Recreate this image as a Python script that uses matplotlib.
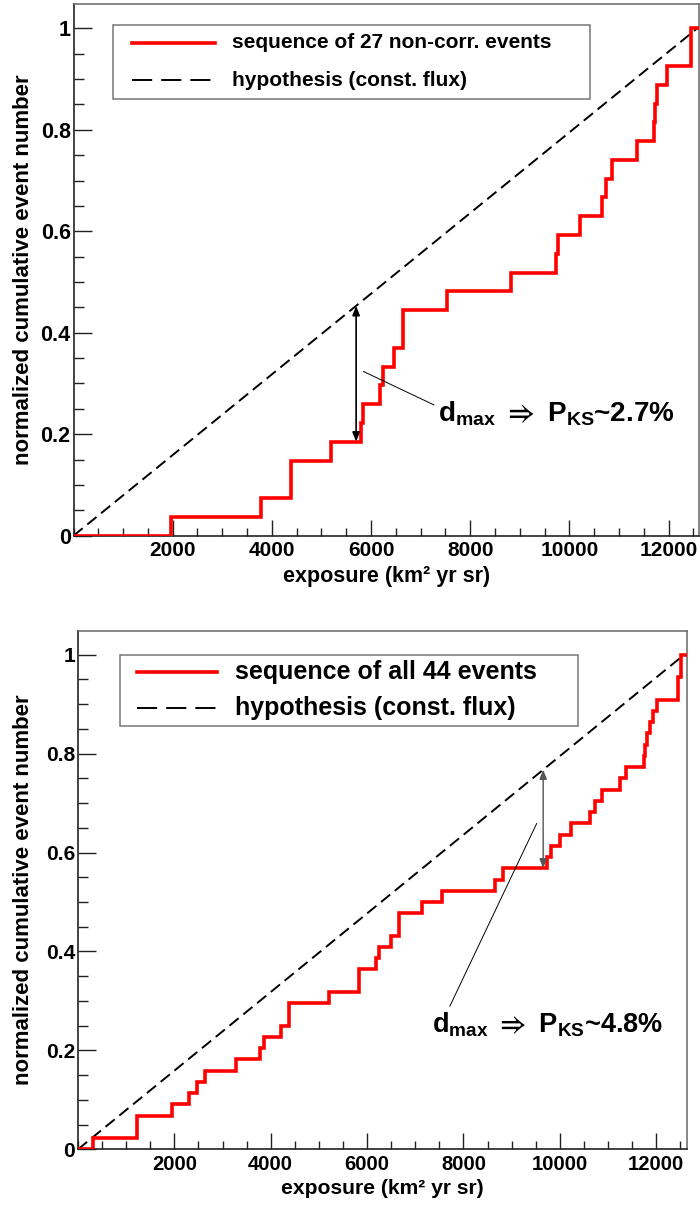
import numpy as np
import matplotlib
matplotlib.use("Agg")
import matplotlib.pyplot as plt
from matplotlib.lines import Line2D
from matplotlib.patches import Rectangle
from matplotlib.ticker import FixedLocator, MultipleLocator, FixedFormatter

plt.rcParams['font.family'] = ['Liberation Sans', 'DejaVu Sans']
plt.rcParams['font.weight'] = 'bold'
plt.rcParams['mathtext.fontset'] = 'custom'
plt.rcParams['mathtext.rm'] = 'Liberation Sans:bold'
plt.rcParams['mathtext.bf'] = 'Liberation Sans:bold'
plt.rcParams['mathtext.it'] = 'Liberation Sans:bold:italic'
plt.rcParams['mathtext.sf'] = 'Liberation Sans:bold'
plt.rcParams['mathtext.fallback'] = 'stixsans'
plt.rcParams['lines.scale_dashes'] = False

# ---- data: exposure (km^2 yr sr) accumulated at each event arrival ----
events_27 = [1966, 3789, 4378, 4378, 5196, 5799, 5846, 6181, 6235, 6469,
             6637, 6637, 7535, 8816, 9727, 9781, 10212, 10651, 10739, 10853,
             11373, 11710, 11730, 11764, 11966, 12460, 12460]
events_44 = [318, 1225, 1225, 1944, 2312, 2478, 2638, 3282, 3782, 3851,
             4211, 4385, 4385, 5203, 5826, 5826, 6190, 6256, 6497, 6669,
             6669, 7131, 7552, 8655, 8828, 9738, 9807, 10000, 10241, 10634,
             10738, 10876, 11241, 11379, 11738, 11772, 11807, 11862, 11931, 12014,
             12462, 12462, 12510, 12510]
total_exposure = 12580
x_max_27 = 12615
x_max_44 = 12640
dmax_x_27 = 5700
dmax_x_44 = 9655
p_ks_27 = '2.7%'
p_ks_44 = '4.8%'

x_ticks = [2000, 4000, 6000, 8000, 10000, 12000]
x_tick_labels = ['2000', '4000', '6000', '8000', '10000', '12000']
y_ticks = [0, 0.2, 0.4, 0.6, 0.8, 1.0]
y_tick_labels = ['0', '0.2', '0.4', '0.6', '0.8', '1']
labels_27 = ['sequence of 27 non-corr. events', 'hypothesis (const. flux)']
labels_44 = ['sequence of all 44 events', 'hypothesis (const. flux)']
x_title = 'exposure (km\u00b2 yr sr)'
y_title = 'normalized cumulative event number'

W, H = 700, 1205
fig = plt.figure(figsize=(W / 100, H / 100), dpi=100)


def px_rect(l, t, r, b):
    return [l / W, 1 - b / H, (r - l) / W, (b - t) / H]


def fx(x):
    return x / W


def fy(y):
    return 1 - y / H


def style_axes(ax, xmax, tick_fs, label_fs, xlab_y, ylab_x):
    ax.set_xlim(0, xmax)
    ax.set_ylim(0, 1.048)
    ax.xaxis.set_major_locator(FixedLocator(x_ticks))
    ax.xaxis.set_major_formatter(FixedFormatter(x_tick_labels))
    ax.xaxis.set_minor_locator(MultipleLocator(500))
    ax.yaxis.set_major_locator(FixedLocator(y_ticks))
    ax.yaxis.set_major_formatter(FixedFormatter(y_tick_labels))
    ax.yaxis.set_minor_locator(MultipleLocator(0.05))
    ax.tick_params(which='both', direction='in', top=False, right=False,
                   width=1.0, color='#222222')
    ax.tick_params(axis='x', which='major', length=11.5, pad=4, labelsize=tick_fs)
    ax.tick_params(axis='x', which='minor', length=5.8)
    ax.tick_params(axis='y', which='major', length=13, pad=2, labelsize=tick_fs + 0.5)
    ax.tick_params(axis='y', which='minor', length=7.2)
    for side in ('left', 'bottom'):
        ax.spines[side].set_color('#222222')
        ax.spines[side].set_linewidth(1.2)
    for side in ('top', 'right'):
        ax.spines[side].set_color('#666666')
        ax.spines[side].set_linewidth(1.1)
    ax.set_xlabel(x_title, fontsize=label_fs, fontweight='bold')
    ax.xaxis.label.set_va('center')
    ax.xaxis.set_label_coords(0.5, xlab_y)
    ax.set_ylabel(y_title, fontsize=16, fontweight='bold')
    ax.yaxis.label.set_va('center')
    ax.yaxis.set_label_coords(ylab_x, 0.5)


def draw_panel(ax, events, xmax, dmax_x, p_ks, text_xy, pointer_xy,
               arrow_color, arrow_lw, text_fs, relpos):
    ev = np.asarray(events, dtype=float)
    n = len(ev)
    frac = np.arange(1, n + 1) / n
    xs = np.concatenate([[0.0], ev, [xmax]])
    ys = np.concatenate([[0.0], frac, [1.0]])
    red, = ax.step(xs, ys, where='post', color='#ff0000', lw=2.6,
                   solid_joinstyle='miter', zorder=3)
    hyp, = ax.plot([0, total_exposure], [0, 1], color='black', lw=1.4,
                   linestyle=(0, (8.5, 4.3)), zorder=2)
    lower = np.searchsorted(ev, dmax_x, side='right') / n
    upper = dmax_x / total_exposure
    ax.annotate('', xy=(dmax_x, upper), xytext=(dmax_x, lower),
                arrowprops=dict(arrowstyle='<|-|>,head_length=0.55,head_width=0.22',
                                color=arrow_color, lw=arrow_lw,
                                shrinkA=0, shrinkB=0), zorder=4)
    label = r'd$_{\rm max}$ $\Rightarrow$ P$_{\rm KS}$~' + p_ks
    ax.annotate(label, xy=pointer_xy, xytext=text_xy, ha='left', va='baseline',
                fontsize=text_fs, fontweight='bold', color='black',
                arrowprops=dict(arrowstyle='-', color='black', lw=0.7,
                                shrinkA=1, shrinkB=0, relpos=relpos))
    return red, hyp


def draw_key(box, handle_span, text_x, rows_y, labels, handles, fs):
    l, t, r, b = box
    fig.add_artist(Rectangle((fx(l), fy(b)), (r - l) / W, (b - t) / H,
                             transform=fig.transFigure, facecolor='white',
                             edgecolor='#777777', lw=1.1, zorder=5))
    dash_styles = [None, (0, (14.5, 6.5))]
    for y, lab, h, ds in zip(rows_y, labels, handles, dash_styles):
        ln = Line2D([fx(handle_span[0]), fx(handle_span[1])], [fy(y), fy(y)],
                    transform=fig.transFigure, color=h.get_color(),
                    lw=h.get_linewidth(), zorder=6)
        if ds is not None:
            ln.set_linestyle(ds)
        fig.add_artist(ln)
        fig.text(fx(text_x), fy(y), lab, ha='left', va='center', fontsize=fs,
                 fontweight='bold', zorder=6)


# ---------------- upper panel: 27 non-correlated events ----------------
ax1 = fig.add_axes(px_rect(73.5, 4, 699, 535.7))
style_axes(ax1, x_max_27, 15, 15.5, -0.077, -0.08)
red1, hyp1 = draw_panel(ax1, events_27, x_max_27, dmax_x_27, p_ks_27,
                        text_xy=(7351, 0.2247), pointer_xy=(5845, 0.3238),
                        arrow_color='black', arrow_lw=1.2, text_fs=20,
                        relpos=(0.0, 0.75))
draw_key((113.3, 25, 590, 99), (131.7, 215), 232.3, (43, 80),
         labels_27, [red1, hyp1], 15)

# ---------------- lower panel: all 44 events ----------------
ax2 = fig.add_axes(px_rect(78, 631, 687, 1149.3))
style_axes(ax2, x_max_44, 14.6, 15.2, -0.075, -0.09)
red2, hyp2 = draw_panel(ax2, events_44, x_max_44, dmax_x_44, p_ks_44,
                        text_xy=(7341, 0.2366), pointer_xy=(9521, 0.659),
                        arrow_color='#555555', arrow_lw=1.0, text_fs=19.5,
                        relpos=(0.07, 1.0))
draw_key((120, 655.4, 578.3, 726.3), (136.7, 216.7), 235, (672.2, 707.7),
         labels_44, [red2, hyp2], 18)

fig.savefig('out.png', dpi=100)
